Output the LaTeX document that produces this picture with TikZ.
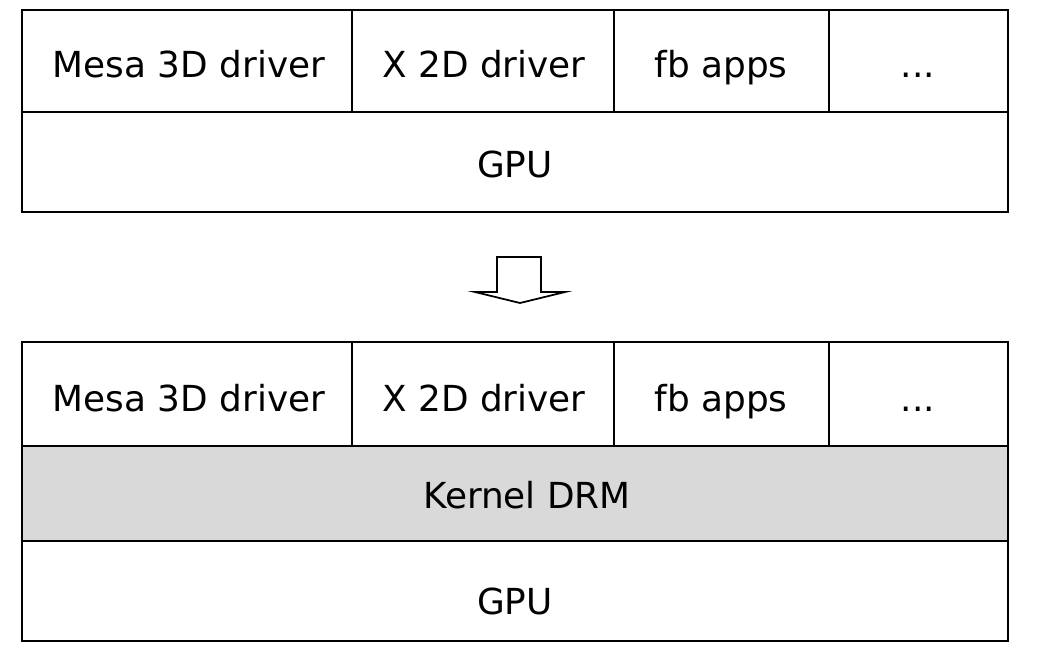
\documentclass[tikz,border=0pt]{standalone}
\usepackage{fontspec}
\setmainfont{DejaVu Sans}
\usepackage{tikz, amsmath}
\definecolor{drmgray}{gray}{0.85}
\tikzset{
	lbl/.style={font=\fontsize{20.4}{24}\selectfont, anchor=base},
	layer/.style={line width=1pt}
}

\begin{document}
\begin{tikzpicture}[x=0.02cm,y=-0.02cm]
	\useasboundingbox (0,0) rectangle (1037,660);
		% before: user space directly on the GPU
	\draw[layer] (22,10) rectangle (352,112);
	\draw[layer] (352,10) rectangle (614,112);
	\draw[layer] (614,10) rectangle (829,112);
	\draw[layer] (829,10) rectangle (1008,112);
	\draw[layer] (22,112) rectangle (1008,212);
	\node[lbl] (mesaA) at (189,77) {Mesa 3D driver};
	\node[lbl] (xA) at (484,77) {X 2D driver};
	\node[lbl] (fbA) at (721,77) {fb apps};
	\node[lbl] (moreA) at (918,77) {...};
	\node[lbl] (gpuA) at (515,177) {GPU};
	
		% arrow
	\draw[layer] (497,257) -- (541,257) -- (541,292) -- (565,292) -- (520,303) -- (475,292) -- (497,292) -- cycle;
	
		% after: kernel DRM in between
	\draw[layer] (22,342) rectangle (352,446);
	\draw[layer] (352,342) rectangle (614,446);
	\draw[layer] (614,342) rectangle (829,446);
	\draw[layer] (829,342) rectangle (1008,446);
	\fill[drmgray] (22,446) rectangle (1008,541);
	\draw[layer] (22,446) rectangle (1008,541);
	\draw[layer] (22,541) rectangle (1008,641);
	\node[lbl] (mesaB) at (189,411) {Mesa 3D driver};
	\node[lbl] (xB) at (484,411) {X 2D driver};
	\node[lbl] (fbB) at (721,411) {fb apps};
	\node[lbl] (moreB) at (918,411) {...};
	\node[lbl] (drm) at (527,508) {Kernel DRM};
	\node[lbl] (gpuB) at (515,614) {GPU};
	
\end{tikzpicture}
\end{document}
